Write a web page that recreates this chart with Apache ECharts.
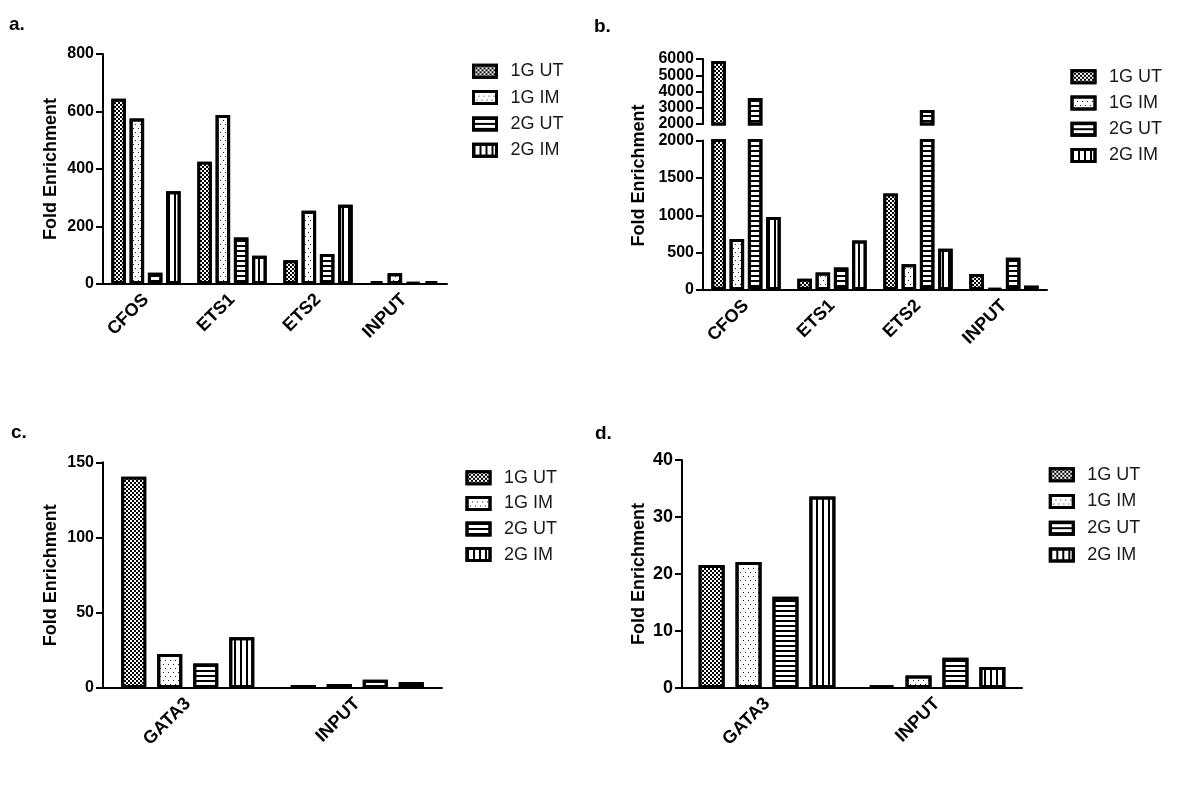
<!DOCTYPE html>
<html><head><meta charset="utf-8">
<script src="https://cdn.jsdelivr.net/npm/echarts@6/dist/echarts.min.js"></script>
<style>html,body{margin:0;padding:0;background:#fff}#c{width:1200px;height:789px}</style>
</head><body><div id="c"></div>
<script>
// ---- data ----
const seriesNames = ['1G UT', '1G IM', '2G UT', '2G IM'];
const catsAB = ['CFOS', 'ETS1', 'ETS2', 'INPUT'];
const catsCD = ['GATA3', 'INPUT'];
// panel a
const a1GUT = [644, 425, 83, 10];
const a1GIM = [576, 588, 255, 37];
const a2GUT = [39, 162, 104, 5];
const a2GIM = [323, 98, 276, 10];
// panel b
const b1GUT = [5880, 152, 1291, 215];
const b1GIM = [682, 233, 345, 20];
const b2GUT = [3600, 300, 2860, 430];
const b2GIM = [978, 663, 551, 58];
// panel c
const c1GUT = [140.4, 2.0];
const c1GIM = [22.6, 2.6];
const c2GUT = [16.2, 5.5];
const c2GIM = [33.7, 4.0];
// panel d
const d1GUT = [21.6, 0.4];
const d1GIM = [22.1, 2.2];
const d2GUT = [16.0, 5.3];
const d2GIM = [33.6, 3.7];
// tick labels
const ticksA = [0, 200, 400, 600, 800];
const ticksBLow = [0, 500, 1000, 1500, 2000];
const ticksBHigh = [2000, 3000, 4000, 5000, 6000];
const ticksC = [0, 50, 100, 150];
const ticksD = [0, 10, 20, 30, 40];
const panelLabels = ['a.', 'b.', 'c.', 'd.'];
const yTitle = 'Fold Enrichment';

// ---- styles ----
const FONT = '"Liberation Sans", Arial, Helvetica, sans-serif';
const patterns = {
  '1G UT': { color: '#000', decal: { symbol: 'rect', symbolSize: 1, color: '#fff', dashArrayX: [[2, 2], [0, 2, 2, 0]], dashArrayY: [2, 0] } },
  '1G IM': { color: '#fff', decal: { symbol: 'rect', symbolSize: 1, color: '#222', dashArrayX: [[1, 4], [0, 3, 1, 1]], dashArrayY: [1, 3] } },
  '2G UT': { color: '#fff', decal: { symbol: 'rect', symbolSize: 1, color: '#000', dashArrayX: [1, 0], dashArrayY: [2, 3] } },
  '2G IM': { color: '#fff', decal: { symbol: 'rect', symbolSize: 1, color: '#000', dashArrayX: [2, 4], dashArrayY: [1, 0] } }
};

function bar(name, data, xi, yi, bw, gap) {
  const p = patterns[name];
  return {
    type: 'bar', name, data, xAxisIndex: xi, yAxisIndex: yi,
    barWidth: bw, barGap: gap, clip: true,
    itemStyle: { color: p.color, borderColor: '#000', borderWidth: 3, decal: p.decal },
    emphasis: { disabled: true }
  };
}

function yAxis(gi, ticks, name, nameGap, fs) {
  return {
    type: 'value', gridIndex: gi,
    min: ticks[0], max: ticks[ticks.length - 1], interval: ticks[1] - ticks[0],
    axisLine: { show: true, lineStyle: { color: '#000', width: 2 } },
    axisTick: { show: true, length: 7, lineStyle: { color: '#000', width: 2 } },
    axisLabel: { color: '#000', fontSize: fs || 16, fontWeight: 'bold', fontFamily: FONT, margin: 9,
      formatter: v => String(v) },
    splitLine: { show: false },
    name: name || '', nameLocation: 'middle', nameGap: nameGap || 45,
    nameTextStyle: { color: '#000', fontSize: 18, fontWeight: 'bold', fontFamily: FONT }
  };
}

function xAxis(gi, cats, show) {
  return {
    type: 'category', gridIndex: gi, data: cats, show: show !== false,
    axisLine: { lineStyle: { color: '#000', width: 2 } },
    axisTick: { alignWithLabel: true, length: 7, lineStyle: { color: '#000', width: 2 } },
    axisLabel: { rotate: 45, interval: 0, color: '#000', fontSize: 18, fontWeight: 'bold', fontFamily: FONT, margin: 13 }
  };
}

function legend(left, top, gap) {
  return {
    orient: 'vertical', left, top, padding: 0, itemWidth: 23, itemHeight: 12, itemGap: gap,
    icon: 'rect', data: seriesNames, selectedMode: false,
    itemStyle: { borderColor: '#000', borderWidth: 3 },
    textStyle: { fontSize: 18, lineHeight: 18, color: '#1a1a1a', fontFamily: FONT, padding: [0, 0, 0, 9] }
  };
}

const aData = [a1GUT, a1GIM, a2GUT, a2GIM];
const bData = [b1GUT, b1GIM, b2GUT, b2GIM];
const cData = [c1GUT, c1GIM, c2GUT, c2GIM];
const dData = [d1GUT, d1GIM, d2GUT, d2GIM];

const series = [];
seriesNames.forEach((n, i) => series.push(bar(n, aData[i], 0, 0, 14.5, '26%')));
seriesNames.forEach((n, i) => series.push(bar(n, bData[i], 1, 1, 14.5, '26%')));
seriesNames.forEach((n, i) => series.push(bar(n, bData[i], 2, 2, 14.5, '26%')));
seriesNames.forEach((n, i) => series.push(bar(n, cData[i], 3, 3, 25, '44%')));
seriesNames.forEach((n, i) => series.push(bar(n, dData[i], 4, 4, 26, '42%')));

const titleStyle = { color: '#000', fontSize: 19, fontWeight: 'bold', fontFamily: FONT };

const option = {
  animation: false,
  backgroundColor: '#fff',
  title: [
    { text: panelLabels[0], left: 9, top: 15, padding: 0, textStyle: titleStyle },
    { text: panelLabels[1], left: 594, top: 17, padding: 0, textStyle: titleStyle },
    { text: panelLabels[2], left: 11, top: 423, padding: 0, textStyle: titleStyle },
    { text: panelLabels[3], left: 595, top: 424, padding: 0, textStyle: titleStyle }
  ],
  grid: [
    { left: 103, top: 54, width: 344, height: 230 },
    { left: 703, top: 140.5, width: 344, height: 149.5 },
    { left: 703, top: 59, width: 344, height: 65 },
    { left: 103, top: 462.3, width: 339, height: 225.7 },
    { left: 682, top: 460, width: 340, height: 228 }
  ],
  xAxis: [
    xAxis(0, catsAB), xAxis(1, catsAB), xAxis(2, catsAB, false), xAxis(3, catsCD), xAxis(4, catsCD)
  ],
  yAxis: [
    yAxis(0, ticksA, yTitle, 43),
    yAxis(1, ticksBLow),
    yAxis(2, ticksBHigh),
    yAxis(3, ticksC, yTitle, 43),
    yAxis(4, ticksD, yTitle, 34, 18)
  ],
  legend: [
    legend(472, 62.3, 8.3),
    legend(1070.5, 67.8, 8.2),
    legend(465.5, 468.8, 7.6),
    legend(1048.8, 465.8, 8.7)
  ],
  graphic: [
    { type: 'text', x: 639, y: 175.6, rotation: Math.PI / 2, silent: true,
      style: { text: yTitle, fill: '#000', font: 'bold 18px ' + FONT, align: 'center', verticalAlign: 'middle', textAlign: 'center', textVerticalAlign: 'middle' } }
  ],
  series
};

const chart = echarts.init(document.getElementById('c'), null, { renderer: 'canvas' });
chart.setOption(option);
</script>
</body></html>
